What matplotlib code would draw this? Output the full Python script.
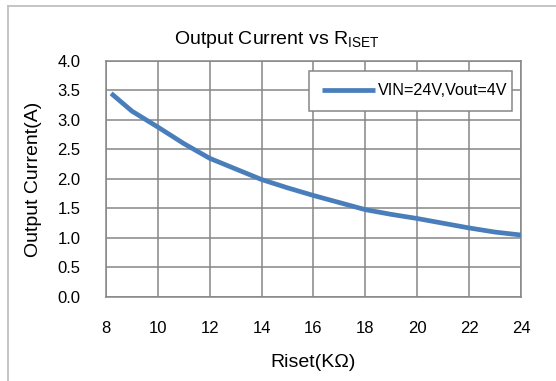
import numpy as np
import matplotlib
matplotlib.use("Agg")
import matplotlib.pyplot as plt
from matplotlib.lines import Line2D
from matplotlib.patches import Rectangle

plt.rcParams['font.family'] = ['Liberation Sans', 'DejaVu Sans']

# Output current measured against the ISET resistor value
riset_kohm = [8.2, 9, 10, 11, 12, 13, 14, 15, 16, 17, 18, 19, 20, 21, 22, 23, 24]
iout_amp = [3.45, 3.15, 2.88, 2.60, 2.35, 2.17, 1.99, 1.85, 1.72, 1.60,
            1.48, 1.40, 1.33, 1.25, 1.17, 1.10, 1.05]
series_label = "VIN=24V,Vout=4V"

x_ticks = [8, 10, 12, 14, 16, 18, 20, 22, 24]
y_ticks = [0.0, 0.5, 1.0, 1.5, 2.0, 2.5, 3.0, 3.5, 4.0]

grid_grey = '#868686'
line_blue = '#4a7ebb'

fig = plt.figure(figsize=(5.56, 3.81), dpi=100)
ax = fig.add_axes([0.1906, 0.2205, 0.7464, 0.6195])

ax.plot(riset_kohm, iout_amp, color=line_blue, lw=3.4,
        solid_capstyle='butt', label=series_label, zorder=3)

ax.set_xlim(8, 24)
ax.set_ylim(0, 4)
ax.set_xticks(x_ticks)
ax.set_xticklabels([str(v) for v in x_ticks])
ax.set_yticks(y_ticks)
ax.set_yticklabels([f"{v:.1f}" for v in y_ticks])
ax.tick_params(axis='both', length=0, labelsize=12)
ax.tick_params(axis='x', pad=17)
ax.tick_params(axis='y', pad=18.5)
ax.grid(True, color=grid_grey, lw=1.1)
for sp in ax.spines.values():
    sp.set_color(grid_grey)
    sp.set_linewidth(1.1)

ax.set_xlabel('Riset(KΩ)', fontsize=14, labelpad=13)
ax.set_ylabel('Output Current(A)', fontsize=14, labelpad=11)

fig.text(0.498, 0.897, 'Output Current vs R$_{\\mathregular{ISET}}$',
         ha='center', va='center', fontsize=14)

# legend box is wider on the left than the text needs, so draw it separately
ax.add_patch(Rectangle((0.489, 0.788), 0.489, 0.170, transform=ax.transAxes,
                       facecolor='white', edgecolor=grid_grey, lw=1.1,
                       zorder=4))
leg = ax.legend(loc='center left', bbox_to_anchor=(0.5205, 0.873),
                borderaxespad=0, borderpad=0, fontsize=11.6, frameon=False,
                handlelength=3.3, handletextpad=0.2)
leg.set_zorder(5)

# chart border: only the left and top edges fall inside the image
fig.add_artist(Line2D([8 / 556, 8 / 556], [0, 1 - 6 / 381],
                      transform=fig.transFigure, color='#bfbfbf', lw=1.3))
fig.add_artist(Line2D([8 / 556, 1], [1 - 6 / 381, 1 - 6 / 381],
                      transform=fig.transFigure, color='#bfbfbf', lw=1.3))

fig.savefig('out.png', dpi=100)
